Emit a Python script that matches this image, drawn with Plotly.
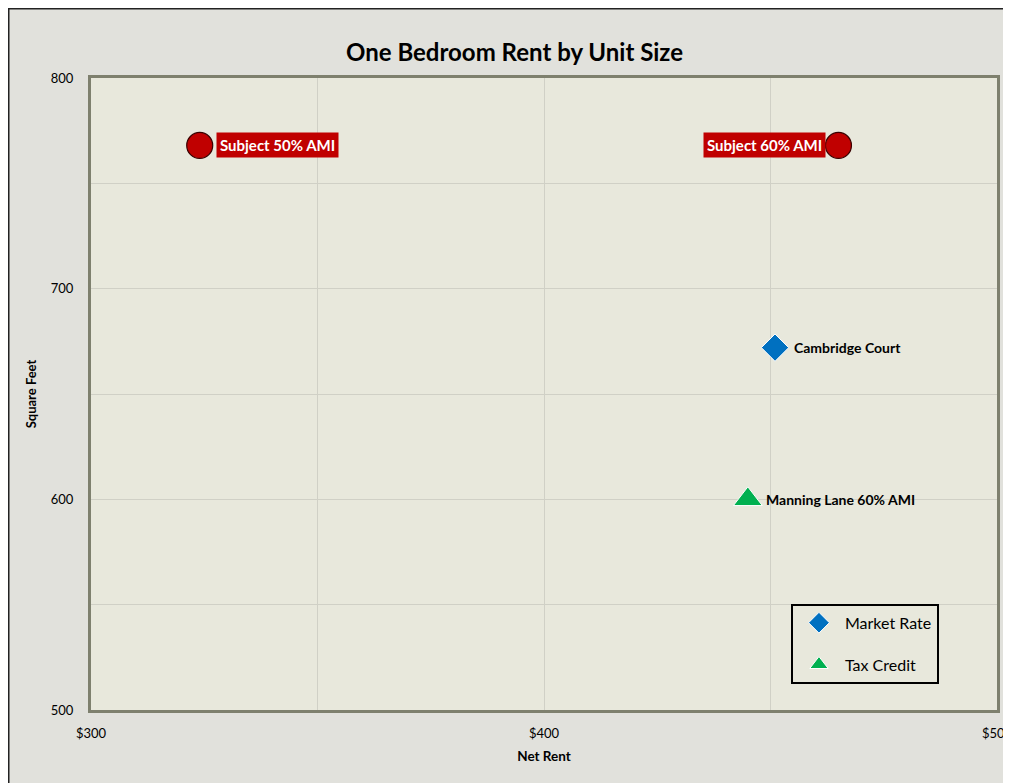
import plotly.graph_objects as go

# ---- data ----
subject_names = ["Subject 50% AMI", "Subject 60% AMI"]
subject_rent = [324, 465]
subject_sqft = [768, 768]

market_names = ["Cambridge Court"]
market_rent = [451]
market_sqft = [672]

tax_names = ["Manning Lane 60% AMI"]
tax_rent = [445]
tax_sqft = [600]

x_ticks = [300, 400, 500]
x_tick_labels = ["$300", "$400", "$500"]
y_ticks = [500, 600, 700, 800]

FONT = "Lato, 'Open Sans', sans-serif"
RED = "#c00000"
BLUE = "#0070c0"
GREEN = "#00b050"
PLOT_BG = "#e8e8dc"
PAPER_BG = "#e1e1dc"

fig = go.Figure()

fig.add_trace(go.Scatter(
    x=subject_rent, y=subject_sqft, mode="markers", name="Subject",
    showlegend=False,
    marker=dict(symbol="circle", size=26, color=RED,
                line=dict(color="#3a0000", width=1.2)),
    hoverinfo="skip",
))
fig.add_trace(go.Scatter(
    x=market_rent, y=market_sqft, mode="markers", name="Market Rate",
    legendgroup="m",
    marker=dict(symbol="diamond", size=21, color=BLUE,
                line=dict(color="white", width=1)),
))
fig.add_trace(go.Scatter(
    x=tax_rent, y=tax_sqft, mode="markers", name="Tax Credit",
    legendgroup="t",
    marker=dict(symbol="triangle-up", size=25, color=GREEN,
                line=dict(color="white", width=1)),
))

annotations = []
# subject labels: white bold text on red boxes
for name, xr, ys, side in zip(subject_names, subject_rent, subject_sqft, ["right", "left"]):
    annotations.append(dict(
        x=xr, y=ys, xref="x", yref="y", text="<b>" + name + "</b>",
        showarrow=False, font=dict(family=FONT, size=15, color="white"),
        bgcolor=RED, borderpad=3,
        xanchor="left" if side == "right" else "right",
        xshift=16 if side == "right" else -12,
        yanchor="middle",
    ))
for names, xs, ys, shift in [(market_names, market_rent, market_sqft, 17),
                             (tax_names, tax_rent, tax_sqft, 16)]:
    for name, xr, yv in zip(names, xs, ys):
        annotations.append(dict(
            x=xr, y=yv, xref="x", yref="y", text="<b>" + name + "</b>",
            showarrow=False, font=dict(family=FONT, size=14, color="black"),
            xanchor="left", xshift=shift, yanchor="middle",
        ))

fig.update_layout(
    width=1011, height=783,
    paper_bgcolor=PAPER_BG, plot_bgcolor=PLOT_BG,
    margin=dict(l=83, r=22, t=70, b=81, autoexpand=False),
    title=dict(text="<b>One Bedroom Rent by Unit Size</b>", x=0.501, xanchor="center",
               y=0.943, yanchor="middle", yref="container",
               font=dict(family=FONT, size=24, color="black")),
    font=dict(family=FONT, size=13, color="black"),
    showlegend=True,
    legend=dict(x=0.7726, y=0.168, xanchor="left", yanchor="top",
                bgcolor=PLOT_BG, bordercolor="black", borderwidth=2,
                font=dict(family=FONT, size=16, color="black"),
                itemsizing="trace", itemwidth=42, tracegroupgap=18),
    annotations=annotations,
    shapes=[dict(type="rect", xref="paper", yref="paper",
                 x0=-0.0916, x1=1.2, y0=-0.3, y1=1.1108,
                 line=dict(color="#222222", width=3), fillcolor="rgba(0,0,0,0)",
                 layer="above")],
)

fig.update_xaxes(
    range=[300, 500], tickvals=x_ticks, ticktext=x_tick_labels,
    showgrid=True, gridcolor="#d0d0c6", gridwidth=1,
    minor=dict(dtick=50, showgrid=True, gridcolor="#d0d0c6", gridwidth=1),
    showline=True, linecolor="#7e806e", linewidth=3, mirror=True,
    ticks="", zeroline=False, ticklabelstandoff=9,
    tickfont=dict(family=FONT, size=13),
    title=dict(text="<b>Net Rent</b>", font=dict(family=FONT, size=13.5), standoff=12),
)
fig.update_yaxes(
    range=[500, 800], tickvals=y_ticks,
    showgrid=True, gridcolor="#d0d0c6", gridwidth=1,
    minor=dict(dtick=50, showgrid=True, gridcolor="#d0d0c6", gridwidth=1),
    showline=True, linecolor="#7e806e", linewidth=3, mirror=True,
    ticks="", zeroline=False, ticklabelstandoff=12,
    tickfont=dict(family=FONT, size=13),
    title=dict(text="<b>Square Feet</b>", font=dict(family=FONT, size=13), standoff=12),
)

fig.write_html("out.html")
